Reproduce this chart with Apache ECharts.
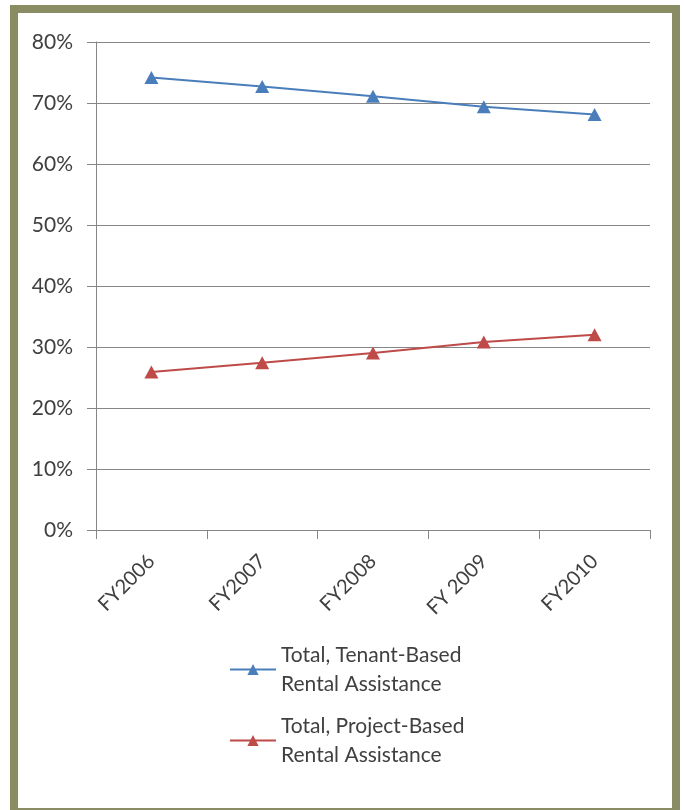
<!DOCTYPE html>
<html>
<head>
<meta charset="utf-8">
<script src="https://cdn.jsdelivr.net/npm/echarts@6/dist/echarts.min.js"></script>
<style>
html,body{margin:0;padding:0;background:#fff;}
#chart{width:684px;height:810px;}
</style>
</head>
<body>
<div id="chart"></div>
<script>
const categories = ['FY2006', 'FY2007', 'FY2008', 'FY 2009', 'FY2010'];
const tenantBased = [74.2, 72.7, 71.1, 69.4, 68.1];
const projectBased = [25.9, 27.4, 29.0, 30.8, 32.0];
const seriesNames = ['Total, Tenant-Based\nRental Assistance', 'Total, Project-Based\nRental Assistance'];
const yTicks = { min: 0, max: 80, interval: 10 };

const FONT = 'Lato';
const TXT = '#404040';
const GRID = '#868686';

const chart = echarts.init(document.getElementById('chart'), null, { renderer: 'canvas' });

const legendCommon = {
  orient: 'vertical',
  left: 229,
  padding: 0,
  itemWidth: 46,
  itemHeight: 14,
  textStyle: {
    fontFamily: FONT,
    fontSize: 21,
    color: TXT,
    lineHeight: 29,
    padding: [29, 0, 0, 0]
  }
};

chart.setOption({
  animation: false,
  backgroundColor: '#ffffff',
  graphic: [{
    type: 'rect',
    shape: { x: 14, y: 9, width: 662, height: 803 },
    style: { fill: 'none', stroke: '#8a8c64', lineWidth: 8 },
    silent: true
  }],
  grid: { left: 96, top: 42, width: 554, height: 488 },
  legend: [
    Object.assign({}, legendCommon, { top: 626, data: [seriesNames[0]] }),
    Object.assign({}, legendCommon, { top: 697, data: [seriesNames[1]] })
  ],
  xAxis: {
    type: 'category',
    data: categories,
    boundaryGap: true,
    axisLine: { lineStyle: { color: GRID, width: 1 } },
    axisTick: { show: true, length: 9, lineStyle: { color: GRID } },
    axisLabel: {
      rotate: 45,
      margin: 28,
      fontFamily: FONT,
      fontSize: 20,
      color: TXT
    },
    splitLine: { show: false }
  },
  yAxis: {
    type: 'value',
    min: yTicks.min,
    max: yTicks.max,
    interval: yTicks.interval,
    axisLine: { show: true, lineStyle: { color: GRID, width: 1 } },
    axisTick: { show: true, length: 9, lineStyle: { color: GRID } },
    axisLabel: {
      margin: 23,
      fontFamily: FONT,
      fontSize: 21,
      color: TXT,
      formatter: v => v + '%'
    },
    splitLine: { show: true, lineStyle: { color: GRID, width: 1 } }
  },
  series: [
    {
      name: seriesNames[0],
      type: 'line',
      data: tenantBased,
      symbol: 'triangle',
      symbolSize: [14, 13],
      lineStyle: { color: '#4a7ebb', width: 2 },
      itemStyle: { color: '#4a7ebb' },
      z: 3
    },
    {
      name: seriesNames[1],
      type: 'line',
      data: projectBased,
      symbol: 'triangle',
      symbolSize: [14, 13],
      lineStyle: { color: '#be4b48', width: 2 },
      itemStyle: { color: '#be4b48' },
      z: 3
    }
  ]
});
</script>
</body>
</html>
